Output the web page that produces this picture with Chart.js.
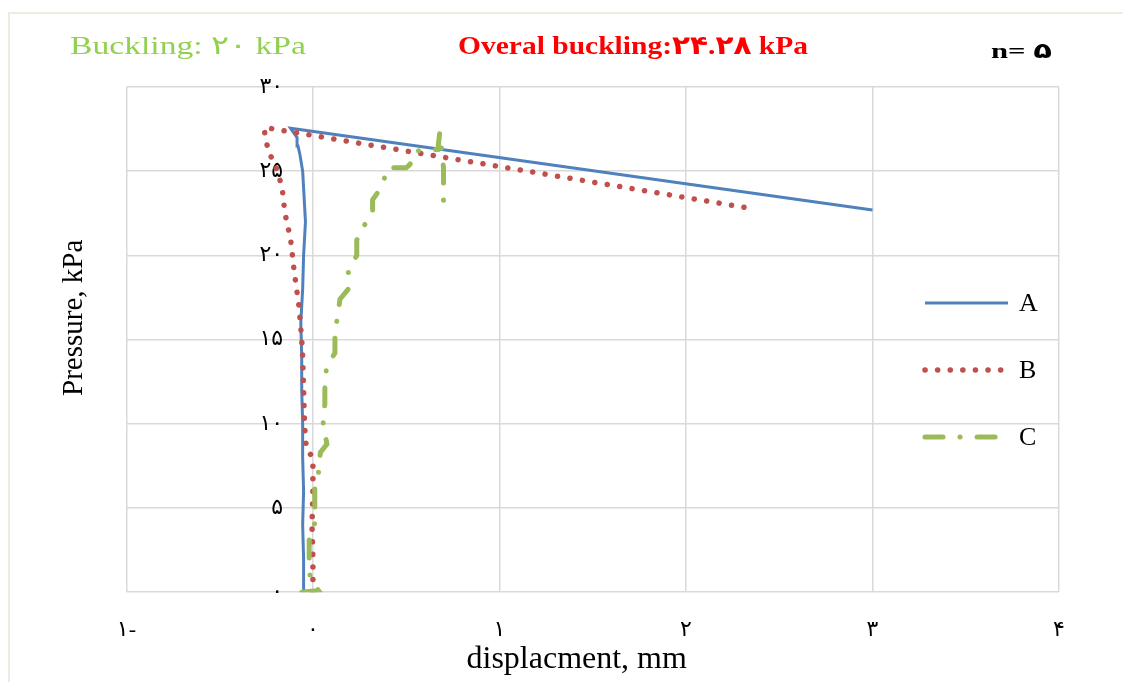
<!DOCTYPE html>
<html>
<head>
<meta charset="utf-8">
<script src="https://cdn.jsdelivr.net/npm/chart.js@4.4.1/dist/chart.umd.min.js"></script>
<style>
  html, body { margin: 0; padding: 0; background: #fff; }
  #wrap { width: 1123px; height: 682px; position: relative; }
</style>
</head>
<body>
<div id="wrap"><canvas id="chart"></canvas></div>
<script>
// series A (solid blue)
const aX = [-0.05, -0.05, -0.055, -0.05, -0.055, -0.055, -0.06, -0.06, -0.065, -0.055, -0.05, -0.045, -0.04, -0.045, -0.05, -0.055, -0.07, -0.08, -0.085, -0.12, 3.0];
const aY = [0, 2, 4, 6, 8, 10, 12, 14, 16, 18, 20, 21, 22, 23, 24, 25, 26, 26.5, 27, 27.55, 22.7];

// series B (red dots)
const bX = [0.0, 0.0, -0.005, 0.0, 0.0, -0.035, -0.045, -0.05, -0.055, -0.06, -0.075, -0.1, -0.11, -0.12, -0.15, -0.165, -0.19, -0.23, -0.25, -0.26, -0.26, 2.37];
const bY = [0, 2, 4, 6, 8, 8.5, 10, 12, 14, 15, 17, 19, 20, 21, 22.5, 24, 25, 26, 26.7, 27.4, 27.6, 22.75];

// series C (green dash-dot)
const cX = [-0.06, 0.03, -0.015, -0.02, -0.02, 0.01, 0.01, 0.01, 0.03, 0.04, 0.075, 0.055, 0.064, 0.064, 0.073, 0.118, 0.118, 0.134, 0.145, 0.19, 0.19, 0.235, 0.235, 0.27, 0.32, 0.32, 0.37, 0.40, 0.50, 0.52, 0.55, 0.67, 0.68, 0.70, 0.70, 0.70];
const cY = [0, 0.1, 0.8, 2, 3.2, 4.1, 5.2, 6.2, 7.1, 8.3, 8.8, 10, 11.2, 12.1, 13.4, 14.2, 15.4, 16.5, 17.4, 18, 19.1, 20, 20.9, 21.7, 22.5, 23.3, 24.1, 25.2, 25.2, 25.4, 26.2, 26.3, 27.3, 25.2, 24.3, 23.1];

const seriesNames = ['A', 'B', 'C'];
const xTickLabels = ['۱-', '۰', '۱', '۲', '۳', '۴'];
const yTickLabels = ['۰', '۵', '۱۰', '۱۵', '۲۰', '۲۵', '۳۰'];

const FONT = '"Liberation Serif", "DejaVu Sans", serif';

const toPoints = (xs, ys) => xs.map((x, i) => ({ x: x, y: ys[i] }));

// stretch text horizontally to fit the width it has in the picture
function fitText(ctx, text, x, y, w, font, color) {
  ctx.save();
  ctx.font = font;
  ctx.fillStyle = color;
  ctx.textBaseline = 'middle';
  const m = ctx.measureText(text).width;
  ctx.translate(x, y);
  ctx.scale(w / m, 1);
  ctx.fillText(text, 0, 0);
  ctx.restore();
}

const frame = {
  id: 'frame',
  beforeDraw(chart) {
    const ctx = chart.ctx;
    ctx.save();
    ctx.strokeStyle = '#eeece1';
    ctx.lineWidth = 2;
    ctx.strokeRect(9, 13, 1300, 900);
    ctx.restore();
  },
  afterDraw(chart) {
    const ctx = chart.ctx;
    fitText(ctx, 'Buckling: ۲۰ kPa', 70, 47, 236, '26px ' + FONT, '#92d050');
    fitText(ctx, 'Overal buckling:۲۴.۲۸ kPa', 458, 47, 350, 'bold 26px ' + FONT, '#ff0000');
    fitText(ctx, 'n= ۵', 991, 52, 61, 'bold 22px ' + FONT, '#000');
  }
};

const sideLegend = {
  id: 'sideLegend',
  afterDraw(chart) {
    const ctx = chart.ctx;
    chart.data.datasets.forEach((ds, i) => {
      const y = 303 + i * 67;
      ctx.save();
      ctx.strokeStyle = ds.borderColor;
      ctx.lineWidth = ds.borderWidth;
      ctx.lineCap = ds.borderCapStyle || 'butt';
      ctx.setLineDash(ds.borderDash || []);
      ctx.beginPath();
      ctx.moveTo(925, y);
      ctx.lineTo(1008, y);
      ctx.stroke();
      ctx.setLineDash([]);
      ctx.fillStyle = '#000';
      ctx.font = '26px ' + FONT;
      ctx.textBaseline = 'middle';
      ctx.fillText(ds.label, 1019, y + 1);
      ctx.restore();
    });
  }
};

const gridStyle = { color: '#d9d9d9', lineWidth: 1.5, drawTicks: false };

new Chart(document.getElementById('chart'), {
  type: 'scatter',
  data: {
    datasets: [
      {
        label: seriesNames[0],
        data: toPoints(aX, aY),
        showLine: true,
        borderColor: '#4f81bd',
        borderWidth: 3,
        pointRadius: 0,
        order: 3
      },
      {
        label: seriesNames[1],
        data: toPoints(bX, bY),
        showLine: true,
        borderColor: '#c0504d',
        borderWidth: 5.5,
        borderDash: [0.1, 12.5],
        borderCapStyle: 'round',
        pointRadius: 0,
        order: 2
      },
      {
        label: seriesNames[2],
        data: toPoints(cX, cY),
        showLine: true,
        borderColor: '#9bbb59',
        borderWidth: 5,
        borderDash: [18, 17, 0.1, 17],
        borderCapStyle: 'round',
        pointRadius: 0,
        order: 1
      }
    ]
  },
  options: {
    responsive: true,
    maintainAspectRatio: false,
    animation: false,
    layout: { padding: { left: 52.6, right: 64, top: 87, bottom: 0 } },
    plugins: {
      legend: { display: false },
      tooltip: { enabled: false }
    },
    scales: {
      x: {
        type: 'linear',
        position: 'bottom',
        min: -1,
        max: 4,
        ticks: {
          stepSize: 1,
          padding: 25,
          color: '#000',
          font: { family: FONT, size: 22 },
          callback: (v, i) => xTickLabels[i]
        },
        grid: gridStyle,
        border: { display: false },
        title: {
          display: true,
          text: 'displacment, mm    ',
          color: '#000',
          font: { family: FONT, size: 32 },
          padding: { top: -28, bottom: 3 }
        }
      },
      y: {
        type: 'linear',
        // labels sit just left of the zero line, as in the source chart
        position: { x: -0.16 },
        min: 0,
        max: 30,
        ticks: {
          stepSize: 5,
          padding: 0,
          color: '#000',
          font: { family: FONT, size: 22 },
          callback: (v, i) => yTickLabels[i]
        },
        grid: gridStyle,
        border: { display: false }
      },
      yTitle: {
        axis: 'y',
        type: 'linear',
        position: 'left',
        min: 0,
        max: 30,
        ticks: { display: false },
        grid: { display: false, drawTicks: false },
        border: { display: false },
        title: {
          display: true,
          text: '      Pressure, kPa',
          color: '#000',
          font: { family: FONT, size: 29 },
          padding: { top: 4, bottom: 35 }
        }
      }
    }
  },
  plugins: [frame, sideLegend]
});
</script>
</body>
</html>
